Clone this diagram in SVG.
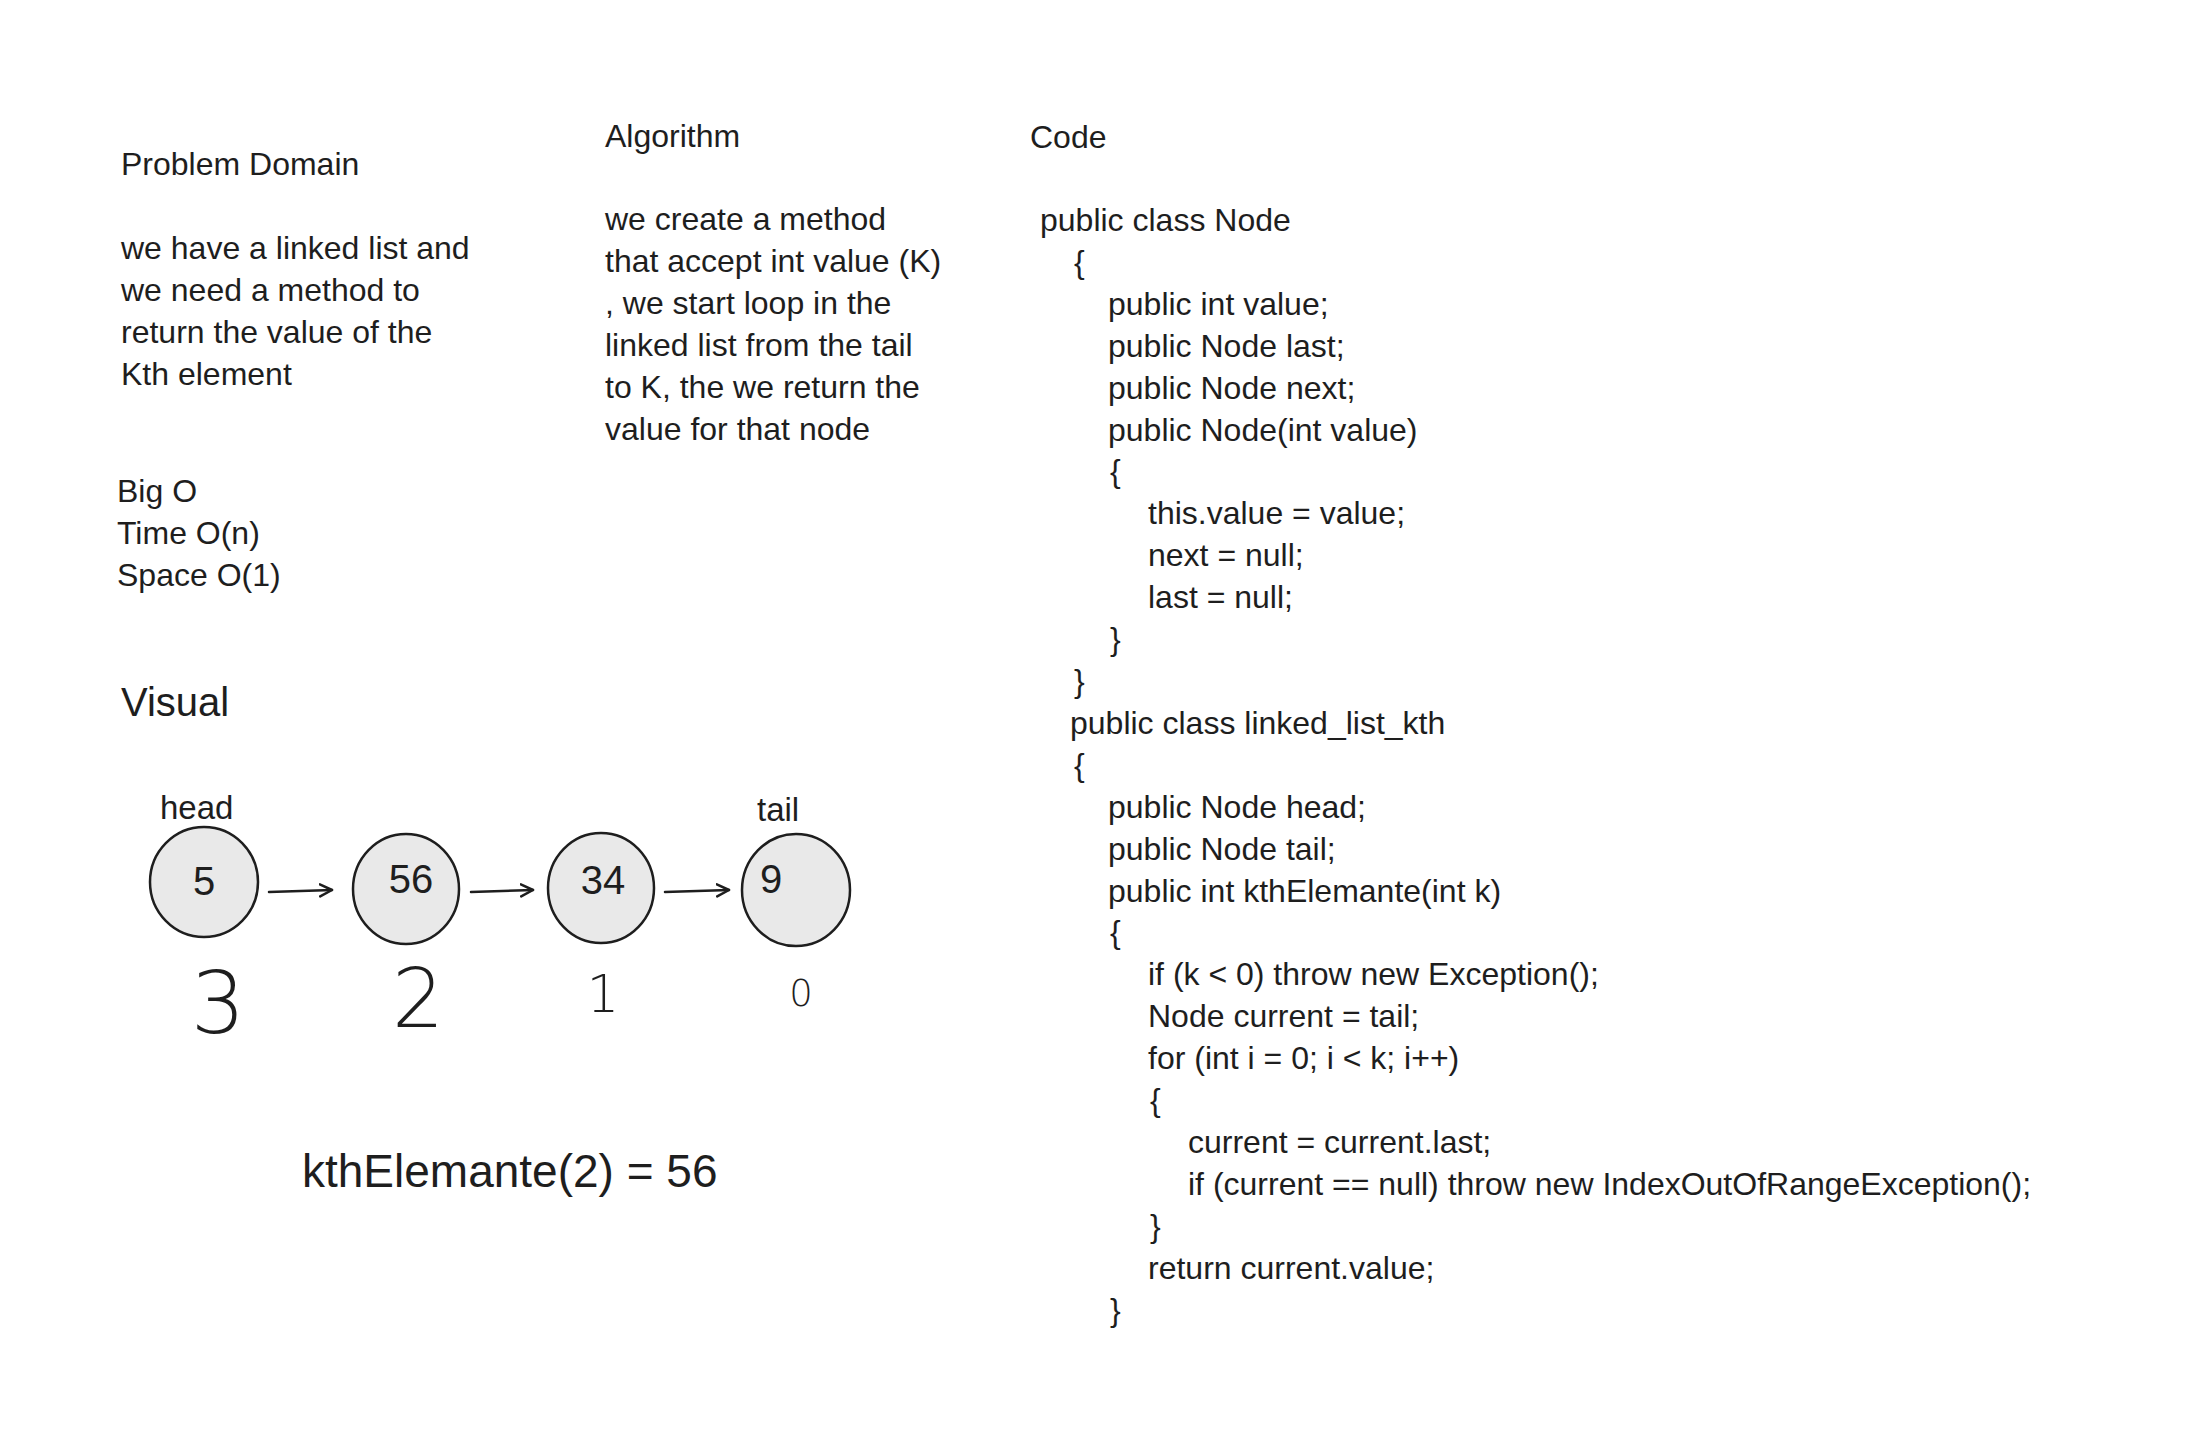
<svg xmlns="http://www.w3.org/2000/svg" width="2198" height="1450" viewBox="0 0 2198 1450">
<style>
text{font-family:"Liberation Sans","DejaVu Sans",sans-serif;fill:#1e1e1e;}
.t{font-size:32px;}
.big{font-size:40px;}
.num{font-size:40px;}
.lbl{font-size:33px;}
.eq{font-size:46px;}
.idx{font-family:"DejaVu Sans","Liberation Sans",sans-serif;font-weight:200;text-anchor:middle;}
.node{fill:#e9e9e9;stroke:#1e1e1e;stroke-width:2.5;}
.conn{stroke:#1e1e1e;stroke-width:2.5;fill:none;stroke-linecap:round;}
</style>
<defs>
<marker id="ah" markerUnits="userSpaceOnUse" markerWidth="16" markerHeight="16" refX="13" refY="7" orient="auto">
<path d="M1,1 L13,7 L1,13" fill="none" stroke="#1e1e1e" stroke-width="2.5" stroke-linecap="round" stroke-linejoin="round"/>
</marker>
</defs>
<rect width="2198" height="1450" fill="#ffffff"/>

<g id="problem-domain">
<text class="t" x="121" y="175">Problem Domain</text>
<text class="t" x="121" y="259">we have a linked list and</text>
<text class="t" x="121" y="301">we need a method to</text>
<text class="t" x="121" y="343">return the value of the</text>
<text class="t" x="121" y="385">Kth element</text>
</g>

<g id="big-o">
<text class="t" x="117" y="502">Big O</text>
<text class="t" x="117" y="544">Time O(n)</text>
<text class="t" x="117" y="586">Space O(1)</text>
</g>

<g id="algorithm">
<text class="t" x="605" y="147">Algorithm</text>
<text class="t" x="605" y="230">we create a method</text>
<text class="t" x="605" y="272">that accept int value (K)</text>
<text class="t" x="605" y="314">, we start loop in the</text>
<text class="t" x="605" y="356">linked list from the tail</text>
<text class="t" x="605" y="398">to K, the we return the</text>
<text class="t" x="605" y="440">value for that node</text>
</g>

<g id="code">
<text class="t" x="1030" y="148">Code</text>
<text class="t" x="1040" y="231">public class Node</text>
<text class="t" x="1074" y="273">{</text>
<text class="t" x="1108" y="315">public int value;</text>
<text class="t" x="1108" y="357">public Node last;</text>
<text class="t" x="1108" y="399">public Node next;</text>
<text class="t" x="1108" y="441">public Node(int value)</text>
<text class="t" x="1110" y="482">{</text>
<text class="t" x="1148" y="524">this.value = value;</text>
<text class="t" x="1148" y="566">next = null;</text>
<text class="t" x="1148" y="608">last = null;</text>
<text class="t" x="1110" y="650">}</text>
<text class="t" x="1074" y="692">}</text>
<text class="t" x="1070" y="734">public class linked_list_kth</text>
<text class="t" x="1074" y="776">{</text>
<text class="t" x="1108" y="818">public Node head;</text>
<text class="t" x="1108" y="860">public Node tail;</text>
<text class="t" x="1108" y="902">public int kthElemante(int k)</text>
<text class="t" x="1110" y="943">{</text>
<text class="t" x="1148" y="985">if (k &lt; 0) throw new Exception();</text>
<text class="t" x="1148" y="1027">Node current = tail;</text>
<text class="t" x="1148" y="1069">for (int i = 0; i &lt; k; i++)</text>
<text class="t" x="1150" y="1111">{</text>
<text class="t" x="1188" y="1153">current = current.last;</text>
<text class="t" x="1188" y="1195">if (current == null) throw new IndexOutOfRangeException();</text>
<text class="t" x="1150" y="1237">}</text>
<text class="t" x="1148" y="1279">return current.value;</text>
<text class="t" x="1110" y="1321">}</text>
</g>

<g id="visual-title">
<text class="big" x="121" y="716">Visual</text>
</g>

<g id="node-5">
<text class="lbl" x="160" y="819">head</text>
<ellipse class="node" cx="204" cy="882" rx="54" ry="55"/>
<text class="num" x="204" y="895" text-anchor="middle">5</text>
<text class="idx" x="218" y="1033" font-size="86">3</text>
</g>

<g id="node-56">
<ellipse class="node" cx="406" cy="889" rx="53" ry="55"/>
<text class="num" x="411" y="893" text-anchor="middle">56</text>
<text class="idx" x="418" y="1027" font-size="82">2</text>
</g>

<g id="node-34">
<ellipse class="node" cx="601" cy="888" rx="53" ry="55"/>
<text class="num" x="603" y="894" text-anchor="middle">34</text>
<text class="idx" x="603" y="1012" font-size="51">1</text>
</g>

<g id="node-9">
<text class="lbl" x="757" y="821">tail</text>
<ellipse class="node" cx="796" cy="890" rx="54" ry="56"/>
<text class="num" x="760" y="893">9</text>
<text class="idx" x="801" y="1006" font-size="37">0</text>
</g>

<g id="connectors">
<line class="conn" x1="269" y1="892" x2="332" y2="890" marker-end="url(#ah)"/>
<line class="conn" x1="471" y1="892" x2="533" y2="890" marker-end="url(#ah)"/>
<line class="conn" x1="665" y1="892" x2="729" y2="890" marker-end="url(#ah)"/>
</g>

<g id="result">
<text class="eq" x="302" y="1187">kthElemante(2) = 56</text>
</g>
</svg>
